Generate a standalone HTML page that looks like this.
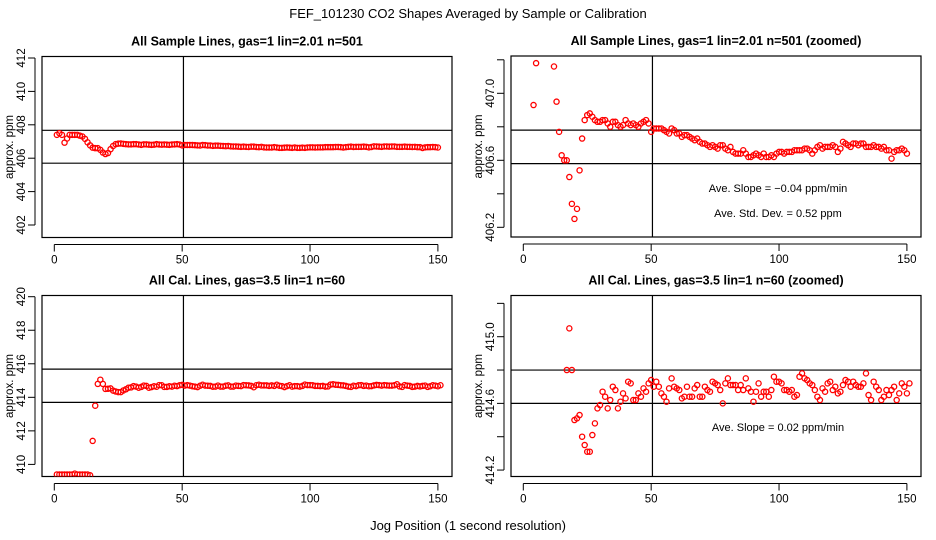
<!DOCTYPE html>
<html><head><meta charset="utf-8"><style>
html,body{margin:0;padding:0;background:#fff;width:936px;height:540px;overflow:hidden}
svg{display:block;font-family:"Liberation Sans",sans-serif}
</style></head><body>
<svg id="c" width="936" height="540" viewBox="0 0 936 540" xmlns="http://www.w3.org/2000/svg">
<text x="468" y="18" font-size="13" text-anchor="middle">FEF_101230  CO2 Shapes Averaged by Sample or Calibration</text>
<text x="468" y="530" font-size="13" text-anchor="middle">Jog Position (1 second resolution)</text>
</svg>
<script>
const xTicks=[0,50,100,150];
const sampleValues=[407.4,407.5,407.4,406.93,407.18,407.4,407.4,407.4,407.4,407.35,407.3,407.16,406.95,406.77,406.63,406.60,406.60,406.50,406.34,406.25,406.31,406.54,406.73,406.84,406.87,406.88,406.86,406.84,406.83,406.83,406.84,406.84,406.82,406.80,406.83,406.83,406.81,406.80,406.81,406.84,406.82,406.81,406.82,406.81,406.80,406.82,406.83,406.84,406.82,406.77,406.79,406.79,406.79,406.79,406.78,406.77,406.76,406.79,406.78,406.76,406.76,406.74,406.75,406.75,406.74,406.73,406.72,406.73,406.71,406.70,406.70,406.69,406.68,406.69,406.68,406.67,406.69,406.69,406.67,406.66,406.68,406.65,406.64,406.64,406.64,406.66,406.64,406.62,406.62,406.63,406.64,406.63,406.62,406.64,406.62,406.62,406.63,406.62,406.64,406.65,406.65,406.64,406.65,406.65,406.65,406.66,406.66,406.66,406.66,406.67,406.67,406.66,406.64,406.66,406.68,406.69,406.67,406.68,406.68,406.68,406.69,406.68,406.65,406.67,406.71,406.70,406.69,406.68,406.70,406.70,406.69,406.70,406.70,406.68,406.68,406.68,406.69,406.68,406.68,406.67,406.68,406.66,406.66,406.61,406.65,406.66,406.66,406.67,406.66,406.64];
const calValues=[409.4,409.4,409.4,409.4,409.4,409.4,409.4,409.45,409.4,409.4,409.4,409.4,409.4,409.35,411.4,413.5,414.80,415.05,414.80,414.50,414.51,414.53,414.40,414.35,414.31,414.31,414.41,414.48,414.57,414.59,414.67,414.64,414.57,414.62,414.70,414.68,414.57,414.61,414.66,414.63,414.73,414.72,414.62,414.62,414.66,414.64,414.69,414.67,414.72,414.74,414.70,414.73,414.70,414.66,414.64,414.61,414.69,414.75,414.70,414.69,414.68,414.63,414.64,414.70,414.64,414.64,414.69,414.71,414.64,414.64,414.70,414.68,414.67,414.73,414.72,414.71,414.68,414.60,414.72,414.75,414.71,414.71,414.71,414.68,414.71,414.68,414.75,414.69,414.67,414.61,414.67,414.72,414.64,414.67,414.67,414.64,414.68,414.76,414.73,414.73,414.72,414.68,414.68,414.67,414.68,414.64,414.65,414.76,414.78,414.75,414.74,414.72,414.71,414.68,414.64,414.62,414.69,414.67,414.72,414.73,414.68,414.70,414.66,414.67,414.71,414.74,414.73,414.70,414.73,414.71,414.70,414.70,414.72,414.78,414.65,414.62,414.73,414.70,414.68,414.62,414.64,414.68,414.65,414.68,414.70,414.62,414.66,414.72,414.70,414.66,414.72];
const tlYTicks=[402,404,406,408,410,412];
const trYTicks=[406.2,406.4,406.6,406.8,407.0,407.2];
const trYLabels=["406.2","","406.6","","407.0",""];
const blYTicks=[410,412,414,416,418,420];
const brYTicks=[414.2,414.4,414.6,414.8,415.0,415.2];
const brYLabels=["414.2","","414.6","","415.0",""];
const tlHLines=[407.67,405.7];
const trHLines=[406.78,406.58];
const blHLines=[415.68,413.7];
const brHLines=[414.80,414.60];
const vLine=50.5;

const NS="http://www.w3.org/2000/svg";
const svg=document.getElementById('c');
function mk(tag,attrs,parent){const e=document.createElementNS(NS,tag);for(const k in attrs)e.setAttribute(k,attrs[k]);(parent||svg).appendChild(e);return e;}

function panel(cfg){
  const g=mk('g',{});
  
  
  const L=cfg.left,R=cfg.left+410,T=cfg.top,B=cfg.top+181;
  const x0=cfg.left+12.3, xs=(cfg.left+395.9-x0)/150;
  const X=v=>x0+v*xs;
  const Y=v=>cfg.yTopPx+(cfg.yTop-v)*cfg.ySc;
  const clipId='clip'+cfg.name;
  const cp=mk('clipPath',{id:clipId},g);mk('rect',{x:L,y:T,width:R-L,height:B-T},cp);
  const t=mk('text',{x:(L+R)/2,y:T-11,'font-size':12.5,'font-weight':'bold','text-anchor':'middle'},g);
  t.textContent=cfg.title;
  
  
  const box=mk('rect',{x:L,y:T,width:R-L,height:B-T,fill:'none',stroke:'#000','stroke-width':1.2},g);
  
  
  mk('line',{x1:X(xTicks[0]),x2:X(xTicks[xTicks.length-1]),y1:B+7,y2:B+7,stroke:'#000'},g);
  xTicks.forEach(v=>{
    mk('line',{x1:X(v),x2:X(v),y1:B+7,y2:B+14,stroke:'#000'},g);
    const tx=mk('text',{x:X(v),y:B+26,'font-size':11.5,'text-anchor':'middle'},g);
    tx.textContent=v;
    
    
  });
  mk('line',{x1:L-7,x2:L-7,y1:Y(cfg.yTicks[0]),y2:Y(cfg.yTicks[cfg.yTicks.length-1]),stroke:'#000'},g);
  cfg.yTicks.forEach((v,i)=>{
    mk('line',{x1:L-14,x2:L-7,y1:Y(v),y2:Y(v),stroke:'#000'},g);
    const lab=cfg.yLabels?cfg.yLabels[i]:String(v);
    if(lab){
      const ty=mk('text',{x:0,y:0,'font-size':11.5,'text-anchor':'middle',transform:`translate(${L-17},${Y(v)}) rotate(-90)`},g);
      ty.textContent=lab;
      
      
    }
  });
  const yl=mk('text',{x:0,y:0,'font-size':11.5,'text-anchor':'middle',transform:`translate(${L-29},${(T+B)/2}) rotate(-90)`},g);
  yl.textContent='approx. ppm';
  
  
  const cg=mk('g',{'clip-path':`url(#${clipId})`},g);
  cfg.hLines.forEach(v=>{
    const l=mk('line',{x1:L,x2:R,y1:Y(v),y2:Y(v),stroke:'#000','stroke-width':1.2},cg);
    
    
  });
  const vl=mk('line',{x1:X(vLine),x2:X(vLine),y1:T,y2:B,stroke:'#000','stroke-width':1.2},cg);
  
  
  cfg.values.forEach((v,i)=>{
    const cy=Y(v);
    if(cy<T-3||cy>B+3) return;
    const c=mk('circle',{cx:X(i+1),cy:cy,r:2.6,fill:'none',stroke:'#f00','stroke-width':1.3},cg);
    
    
  });
  (cfg.notes||[]).forEach(n=>{
    const tn=mk('text',{x:n[0],y:n[1],'font-size':11,'text-anchor':'middle'},g);
    tn.textContent=n[2];
    
    
  });
}
panel({name:'sample-panel',title:'All Sample Lines, gas=1 lin=2.01 n=501',left:42,top:56.5,values:sampleValues,yTicks:tlYTicks,yTop:412,yTopPx:58,ySc:16.7,hLines:tlHLines});
panel({name:'sample-zoomed-panel',title:'All Sample Lines, gas=1 lin=2.01 n=501 (zoomed)',left:511,top:56,values:sampleValues,yTicks:trYTicks,yLabels:trYLabels,yTop:407.0,yTopPx:93.3,ySc:167.5,hLines:trHLines,
  notes:[[778,192,'Ave. Slope =  \u22120.04  ppm/min'],[778,217,'Ave. Std. Dev. =  0.52  ppm']]});
panel({name:'cal-panel',title:'All Cal. Lines, gas=3.5 lin=1 n=60',left:42,top:295.5,values:calValues,yTicks:blYTicks,yTop:420,yTopPx:296.7,ySc:16.77,hLines:blHLines});
panel({name:'cal-zoomed-panel',title:'All Cal. Lines, gas=3.5 lin=1 n=60 (zoomed)',left:511,top:295.5,values:calValues,yTicks:brYTicks,yLabels:brYLabels,yTop:415.0,yTopPx:336.7,ySc:166.7,hLines:brHLines,
  notes:[[778,431,'Ave. Slope =  0.02  ppm/min']]});
</script>
</body></html>
